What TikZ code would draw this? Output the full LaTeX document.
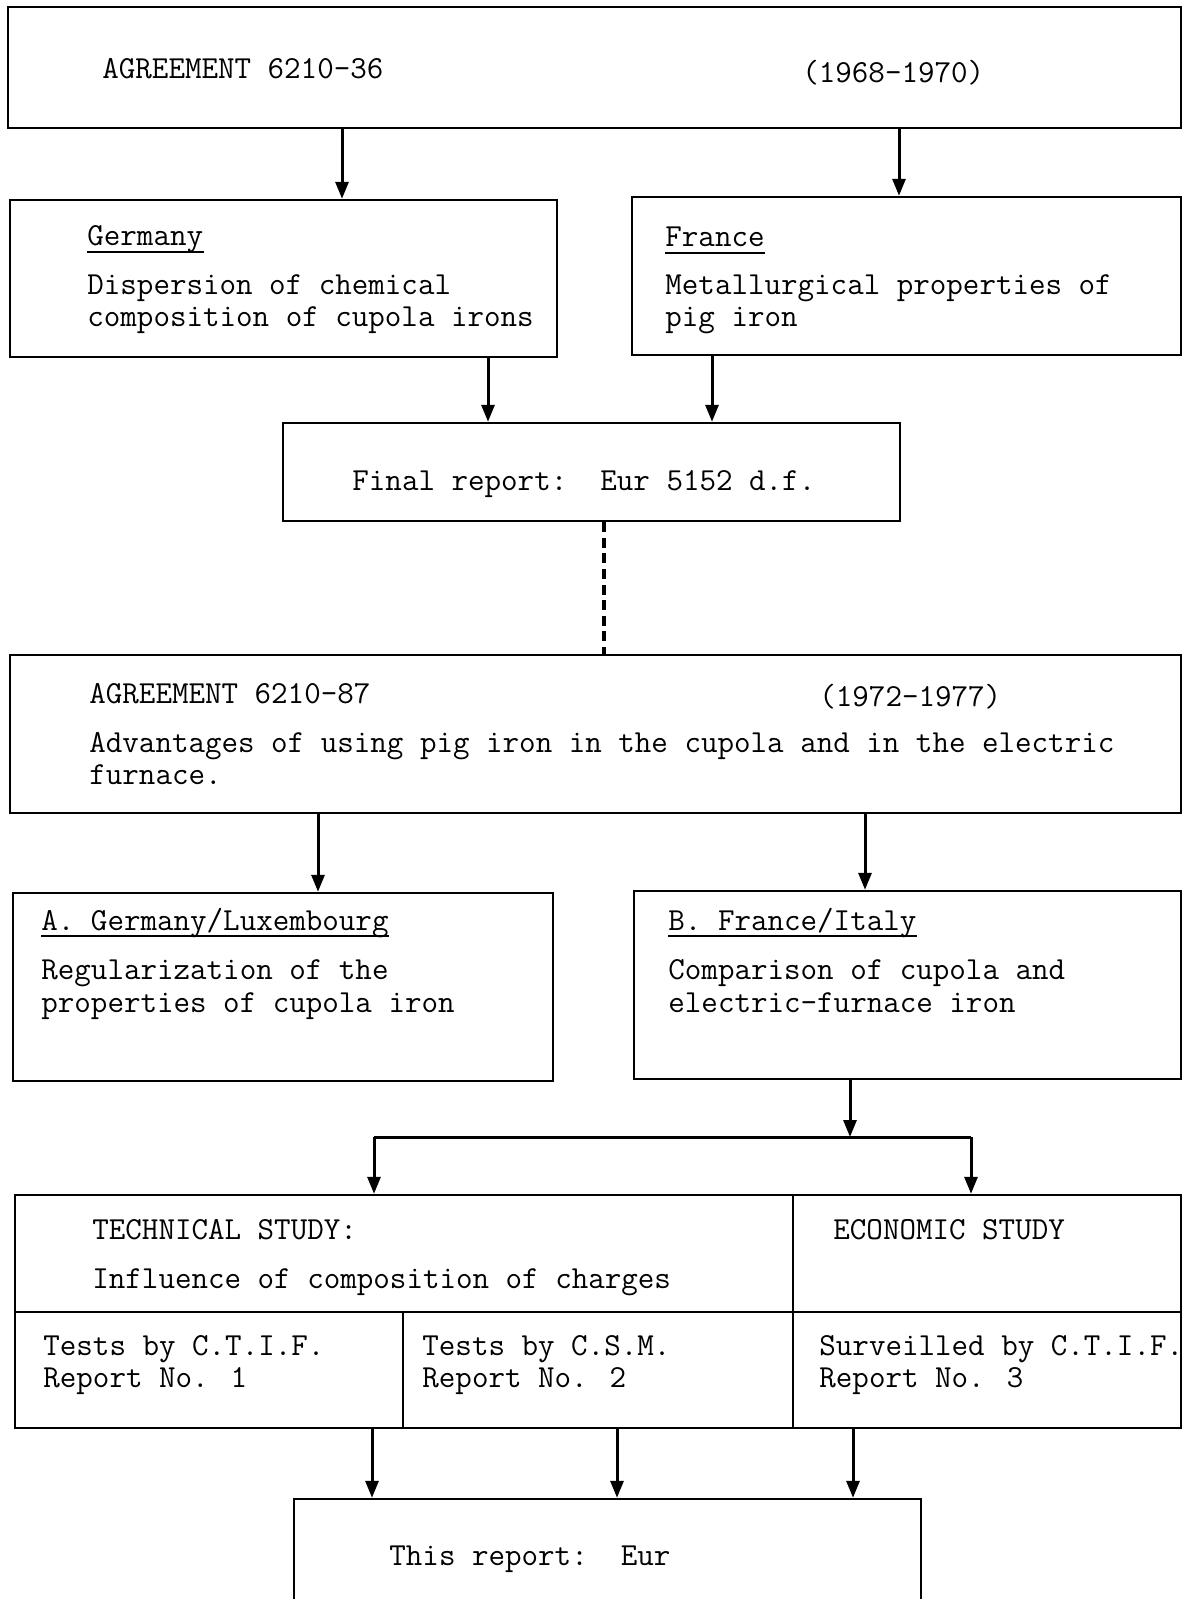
\documentclass[tikz,border=0pt]{standalone}
\usetikzlibrary{arrows.meta,fit}
\begin{document}
\begin{tikzpicture}[x=0.5pt,y=-0.5pt,
  box/.style={draw, line width=1.2pt, inner sep=0pt},
  txt/.style={anchor=base west, inner sep=0pt, font=\fontsize{16.05}{16.3}\selectfont\ttfamily},
  arr/.style={line width=1.5pt, -{Triangle[length=8.5pt,width=6.5pt]}},
  sep/.style={line width=1.1pt},
  ul/.style={line width=0.9pt}]
\path[use as bounding box, clip] (0,0) rectangle (1183,1599);
\fill[white] (0,0) rectangle (1183,1599);

% x positions of connectors
\coordinate (c1) at (342,0);
\coordinate (c2) at (899,0);
\coordinate (c3) at (488,0);
\coordinate (c4) at (712,0);
\coordinate (c5) at (604,0);
\coordinate (c6) at (318,0);
\coordinate (c7) at (865,0);
\coordinate (c9) at (372,0);
\coordinate (c10) at (617,0);
\coordinate (c11) at (853,0);

% Agreement 6210-36
\node[box, fit={(8,7) (1181,128)}] (ag1) {};
\node[txt] (ag1t) at (102,79) {AGREEMENT 6210-36};
\node[txt] (ag1y) at (802,83) {(1968-1970)};

% Germany
\node[box, fit={(10,200) (557,357)}] (ger) {};
\node[txt] (gerh) at (87,246) {Germany};
\draw[ul] ([yshift=-3pt]gerh.base west) -- ([yshift=-3pt]gerh.base east);
\node[txt] (ger1) at (87,295) {Dispersion of chemical};
\node[txt] (ger2) at (87,327) {composition of cupola irons};

% France
\node[box, fit={(632,197) (1181,355)}] (fra) {};
\node[txt] (frah) at (665,247) {France};
\draw[ul] ([yshift=-3pt]frah.base west) -- ([yshift=-3pt]frah.base east);
\node[txt] (fra1) at (665,295) {Metallurgical properties of};
\node[txt] (fra2) at (665,327) {pig iron};

% Final report
\node[box, fit={(283,423) (900,521)}] (fin) {};
\node[txt] (fint) at (352,490) {Final report:\ \ Eur 5152 d.f.};

% Agreement 6210-87
\node[box, fit={(10,655) (1181,813)}] (ag2) {};
\node[txt] (ag2t) at (89,703) {AGREEMENT 6210-87};
\node[txt] (ag2y) at (819,706) {(1972-1977)};
\node[txt] (ag21) at (89,752) {Advantages of using pig iron in the cupola and in the electric};
\node[txt] (ag22) at (89,784) {furnace.};

% A. Germany/Luxembourg
\node[box, fit={(13,893) (553,1081)}] (boxa) {};
\node[txt] (ah) at (41,930) {A. Germany/Luxembourg};
\draw[ul] ([yshift=-3pt]ah.base west) -- ([yshift=-3pt]ah.base east);
\node[txt] (a1) at (41,979) {Regularization of the};
\node[txt] (a2) at (41,1012) {properties of cupola iron};

% B. France/Italy
\node[box, fit={(634,891) (1181,1079)}] (boxb) {};
\node[txt] (bh) at (668,930) {B. France/Italy};
\draw[ul] ([yshift=-3pt]bh.base west) -- ([yshift=-3pt]bh.base east);
\node[txt] (b1) at (668,979) {Comparison of cupola and};
\node[txt] (b2) at (668,1012) {electric-furnace iron};

% Table of studies
\node[box, fit={(15,1195) (1181,1428)}] (tab) {};
\coordinate (th) at (0,1312);
\coordinate (tv1) at (793,0);
\coordinate (tv2) at (403,0);
\draw[sep] (tab.west |- th) -- (tab.east |- th);
\draw[sep] (tab.north -| tv1) -- (tab.south -| tv1);
\draw[sep] (th -| tv2) -- (tab.south -| tv2);
\node[txt] (tech1) at (92,1239) {TECHNICAL STUDY:};
\node[txt] (tech2) at (92,1288) {Influence of composition of charges};
\node[txt] (eco) at (833,1239) {ECONOMIC STUDY};
\node[txt] (r1a) at (43,1355) {Tests by C.T.I.F.};
\node[txt] (r1b) at (43,1387) {Report No. 1};
\node[txt] (r2a) at (422,1355) {Tests by C.S.M.};
\node[txt] (r2b) at (422,1387) {Report No. 2};
\node[txt] (r3a) at (819,1355) {Surveilled by C.T.I.F.};
\node[txt] (r3b) at (819,1387) {Report No. 3};

% This report
\node[box, fit={(294,1499) (921,1650)}] (thisr) {};
\node[txt] (thist) at (389,1565) {This report:\ \ Eur};

% connectors
\draw[arr] (ag1.south -| c1) -- (ger.north -| c1);
\draw[arr] (ag1.south -| c2) -- (fra.north -| c2);
\draw[arr] (ger.south -| c3) -- (fin.north -| c3);
\draw[arr] (fra.south -| c4) -- (fin.north -| c4);
\draw[line width=1.6pt, dash pattern=on 5pt off 2.8pt] (fin.south -| c5) -- (ag2.north -| c5);
\draw[arr] (ag2.south -| c6) -- (boxa.north -| c6);
\draw[arr] (ag2.south -| c7) -- (boxb.north -| c7);
\coordinate (split) at (850,1137);
\coordinate (jl) at (374,1137);
\coordinate (jr) at (971,1137);
\draw[arr] (boxb.south -| split) -- (split);
\draw[line width=1.5pt] (jl) -- (jr);
\draw[arr] (jl) -- (tab.north -| jl);
\draw[arr] (jr) -- (tab.north -| jr);
\draw[arr] (tab.south -| c9) -- (thisr.north -| c9);
\draw[arr] (tab.south -| c10) -- (thisr.north -| c10);
\draw[arr] (tab.south -| c11) -- (thisr.north -| c11);
\end{tikzpicture}
\end{document}
